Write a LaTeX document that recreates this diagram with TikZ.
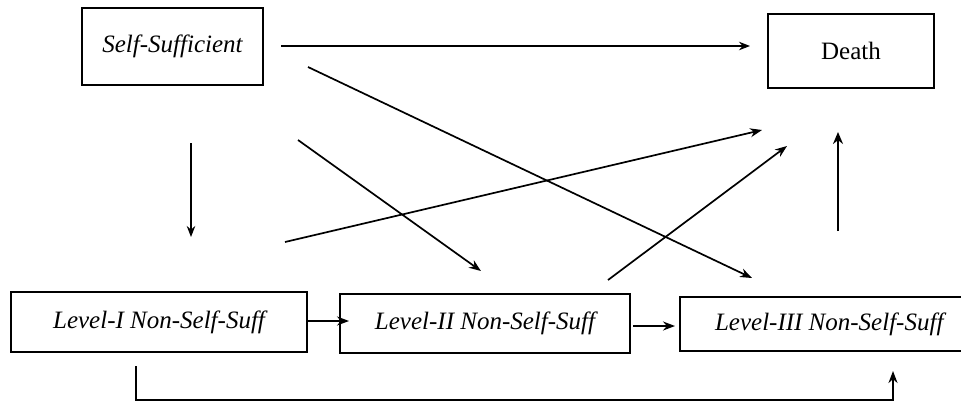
\documentclass[tikz,border=0pt]{standalone}
\usepackage{fontspec}
\setmainfont{Liberation Serif}
\usetikzlibrary{arrows.meta}
\begin{document}
\begin{tikzpicture}[x=1pt,y=-1pt,
  box/.style={draw,line width=1.5pt,inner sep=0pt,font=\fontsize{25}{29}\selectfont},
  conn/.style={line width=1.2pt,-{Stealth[length=11pt,width=8.5pt]}},
  thick conn/.style={line width=1.7pt,-{Stealth[length=12pt,width=9pt]}}]
\useasboundingbox[fill=white] (0,0) rectangle (961,405);
\node[box,minimum width=181pt,minimum height=77pt] (self) at (172.5,46.5) {\itshape Self-Sufficient};
\node[box,minimum width=166pt,minimum height=74pt] (death) at (851,51) {Death};
\node[box,minimum width=296pt,minimum height=60pt] (l1) at (159,322) {\itshape Level-I Non-Self-Suff};
\node[box,minimum width=290pt,minimum height=59pt] (l2) at (485,323.5) {\itshape Level-II Non-Self-Suff};
\node[box,minimum width=292pt,minimum height=54pt,anchor=west] (l3) at (679,324) {\itshape\hspace*{7pt}Level-III Non-Self-Suff};
% free-end coordinates
\coordinate (a1) at (281,46);   \coordinate (a2) at (750,46);
\coordinate (b1) at (191,143);  \coordinate (b2) at (191,237);
\coordinate (c1) at (308,67);   \coordinate (c2) at (752,278);
\coordinate (d1) at (298,140);  \coordinate (d2) at (481,271);
\coordinate (e1) at (285,242);  \coordinate (e2) at (762,130);
\coordinate (f1) at (608,280);  \coordinate (f2) at (787,146);
\coordinate (g1) at (838,231);  \coordinate (g2) at (838,132);
\coordinate (h1) at (307,321);  \coordinate (h2) at (349,321);
\coordinate (i1) at (633,326);  \coordinate (i2) at (675,326);
\coordinate (j1) at (136,366);  \coordinate (j2) at (893,371);
\draw[conn] (a1) -- (a2);
\draw[conn] (b1) -- (b2);
\draw[thick conn] (c1) -- (c2);
\draw[thick conn] (d1) -- (d2);
\draw[thick conn] (e1) -- (e2);
\draw[thick conn] (f1) -- (f2);
\draw[line width=2.4pt,-{Stealth[length=12pt,width=10pt]}] (g1) -- (g2);
\draw[thick conn] (h1) -- (h2);
\draw[thick conn] (i1) -- (i2);
\draw[line width=2pt,-{Stealth[length=12pt,width=9pt]}] (j1) |- (136,400) -| (j2);
\end{tikzpicture}
\end{document}
